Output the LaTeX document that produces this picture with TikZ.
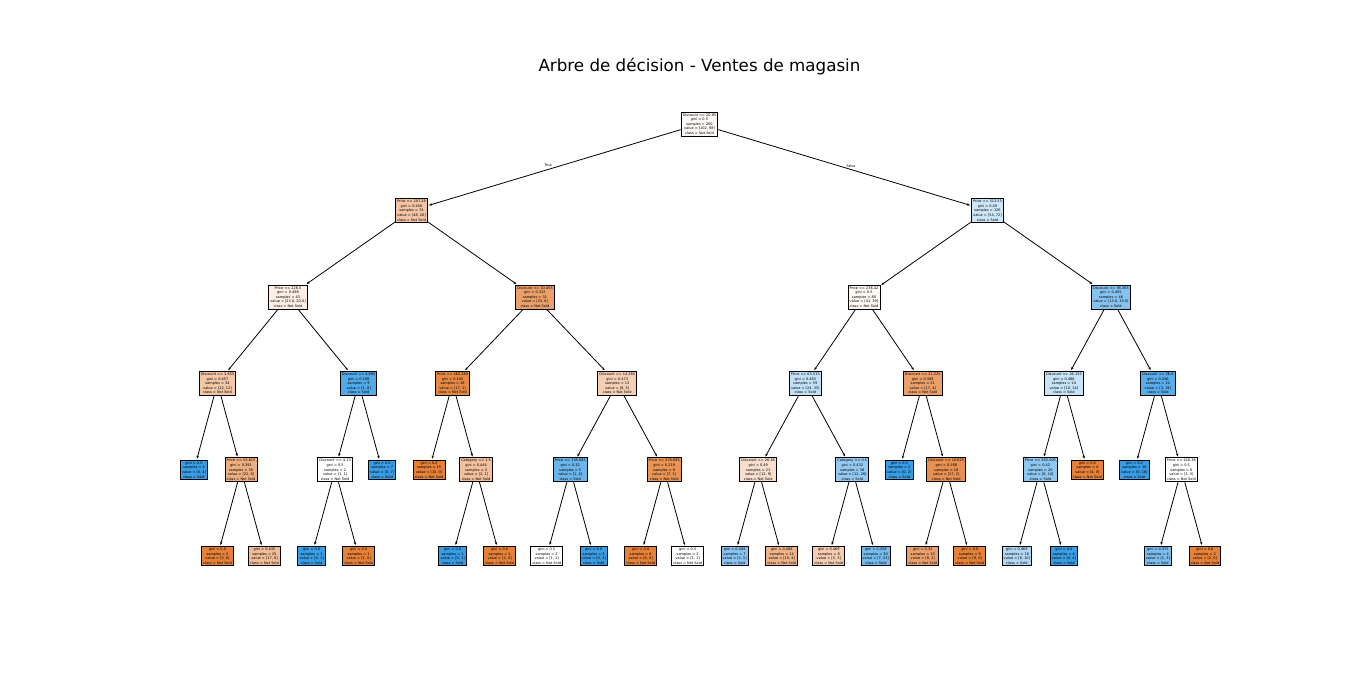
\documentclass[tikz,border=0pt]{standalone}
\usepackage{fontspec}
\setmainfont{DejaVu Sans}
\usetikzlibrary{arrows.meta}
\definecolor{notsold}{HTML}{E58139}
\definecolor{sold}{HTML}{399DE5}
\tikzset{
  treenode/.style={draw=black, line width=0.9pt, align=center, inner xsep=1.6pt, inner ysep=1.4pt,
    font=\fontsize{3.5}{4.6}\selectfont},
  branch/.style={-{Stealth[length=3pt,width=2.4pt]}, line width=0.8pt, shorten >=1pt},
  branchlabel/.style={font=\fontsize{3.5}{4.2}\selectfont, inner sep=0pt},
}
\begin{document}
\begin{tikzpicture}[x=1pt, y=-1pt]
  \useasboundingbox (0,0) rectangle (1366,673);
  \node[font=\fontsize{16.7}{20}\selectfont] (title) at (699.5,67) {Arbre de décision - Ventes de magasin};
  % Root
  \node[treenode, fill=notsold!4] (root) at (699.5,124) {Discount <= 20.85\\gini = 0.5\\samples = 200\\value = [102, 98]\\class = Not Sold};
  % Depth 1
  \node[treenode, fill=notsold!46] (l) at (411.5,210.5) {Price <= 207.28\\gini = 0.456\\samples = 74\\value = [48, 26]\\class = Not Sold};
  \node[treenode, fill=sold!25] (r) at (987.5,210.5) {Price <= 313.53\\gini = 0.49\\samples = 126\\value = [54, 72]\\class = Sold};
  % Depth 2
  \node[treenode, fill=notsold!13] (ll) at (288,297) {Price <= 226.5\\gini = 0.498\\samples = 43\\value = [23.0, 20.0]\\class = Not Sold};
  \node[treenode, fill=notsold!76] (lr) at (534.9,297) {Discount <= 10.455\\gini = 0.312\\samples = 31\\value = [25, 6]\\class = Not Sold};
  \node[treenode, fill=notsold!5] (rl) at (864,297) {Price <= 236.42\\gini = 0.5\\samples = 80\\value = [41, 39]\\class = Not Sold};
  \node[treenode, fill=sold!61] (rr) at (1110.9,297) {Discount <= 38.365\\gini = 0.405\\samples = 46\\value = [13.0, 33.0]\\class = Sold};
  % Depth 3
  \node[treenode, fill=notsold!45] (lll) at (217.5,383.3) {Discount <= 3.655\\gini = 0.457\\samples = 34\\value = [22, 12]\\class = Not Sold};
  \node[treenode, fill=sold!88] (llr) at (358.6,383.3) {Discount <= 4.895\\gini = 0.198\\samples = 9\\value = [1, 8]\\class = Sold};
  \node[treenode, fill=notsold!94] (lrl) at (452.6,383.3) {Price <= 462.285\\gini = 0.105\\samples = 18\\value = [17, 1]\\class = Not Sold};
  \node[treenode, fill=notsold!38] (lrr) at (617.2,383.3) {Discount <= 14.285\\gini = 0.473\\samples = 13\\value = [8, 5]\\class = Not Sold};
  \node[treenode, fill=sold!31] (rll) at (805.3,383.3) {Price <= 63.515\\gini = 0.483\\samples = 59\\value = [24, 35]\\class = Sold};
  \node[treenode, fill=notsold!76] (rlr) at (922.8,383.3) {Discount <= 21.225\\gini = 0.308\\samples = 21\\value = [17, 4]\\class = Not Sold};
  \node[treenode, fill=sold!29] (rrl) at (1063.9,383.3) {Discount <= 26.155\\gini = 0.486\\samples = 24\\value = [10, 14]\\class = Sold};
  \node[treenode, fill=sold!84] (rrr) at (1157.9,383.3) {Discount <= 36.8\\gini = 0.236\\samples = 22\\value = [3, 19]\\class = Sold};
  % Depth 4
  \node[treenode, fill=sold] (llll) at (194,469.8) {gini = 0.0\\samples = 4\\value = [0, 4]\\class = Sold};
  \node[treenode, fill=notsold!64] (lllr) at (241,469.8) {Price <= 53.615\\gini = 0.391\\samples = 30\\value = [22, 8]\\class = Not Sold};
  \node[treenode, fill=white] (llrl) at (335.1,469.8) {Discount <= 4.13\\gini = 0.5\\samples = 2\\value = [1, 1]\\class = Not Sold};
  \node[treenode, fill=sold] (llrr) at (382.1,469.8) {gini = 0.0\\samples = 7\\value = [0, 7]\\class = Sold};
  \node[treenode, fill=notsold] (lrll) at (429.1,469.8) {gini = 0.0\\samples = 15\\value = [15, 0]\\class = Not Sold};
  \node[treenode, fill=notsold!50] (lrlr) at (476.1,469.8) {Category <= 1.5\\gini = 0.444\\samples = 3\\value = [2, 1]\\class = Not Sold};
  \node[treenode, fill=sold!75] (lrrl) at (570.2,469.8) {Price <= 338.085\\gini = 0.32\\samples = 5\\value = [1, 4]\\class = Sold};
  \node[treenode, fill=notsold!86] (lrrr) at (664.2,469.8) {Price <= 478.685\\gini = 0.219\\samples = 8\\value = [7, 1]\\class = Not Sold};
  \node[treenode, fill=notsold!25] (rlll) at (758.2,469.8) {Discount <= 26.36\\gini = 0.49\\samples = 21\\value = [12, 9]\\class = Not Sold};
  \node[treenode, fill=sold!54] (rllr) at (852.3,469.8) {Category <= 0.5\\gini = 0.432\\samples = 38\\value = [12, 26]\\class = Sold};
  \node[treenode, fill=sold] (rlrl) at (899.3,469.8) {gini = 0.0\\samples = 2\\value = [0, 2]\\class = Sold};
  \node[treenode, fill=notsold!88] (rlrr) at (946.3,469.8) {Discount <= 10.625\\gini = 0.188\\samples = 19\\value = [17, 2]\\class = Not Sold};
  \node[treenode, fill=sold!57] (rrll) at (1040.4,469.8) {Price <= 265.005\\gini = 0.42\\samples = 20\\value = [6, 14]\\class = Sold};
  \node[treenode, fill=notsold] (rrlr) at (1087.4,469.8) {gini = 0.0\\samples = 4\\value = [4, 0]\\class = Not Sold};
  \node[treenode, fill=sold] (rrrl) at (1134.4,469.8) {gini = 0.0\\samples = 16\\value = [0, 16]\\class = Sold};
  \node[treenode, fill=white] (rrrr) at (1181.4,469.8) {Price <= 416.38\\gini = 0.5\\samples = 6\\value = [3, 3]\\class = Not Sold};
  % Depth 5
  \node[treenode, fill=notsold] (lllrl) at (217.5,556) {gini = 0.0\\samples = 5\\value = [5, 0]\\class = Not Sold};
  \node[treenode, fill=notsold!53] (lllrr) at (264.5,556) {gini = 0.435\\samples = 25\\value = [17, 8]\\class = Not Sold};
  \node[treenode, fill=sold] (llrll) at (311.6,556) {gini = 0.0\\samples = 1\\value = [0, 1]\\class = Sold};
  \node[treenode, fill=notsold] (llrlr) at (358.6,556) {gini = 0.0\\samples = 1\\value = [1, 0]\\class = Not Sold};
  \node[treenode, fill=sold] (lrlrl) at (452.6,556) {gini = 0.0\\samples = 1\\value = [0, 1]\\class = Sold};
  \node[treenode, fill=notsold] (lrlrr) at (499.6,556) {gini = 0.0\\samples = 2\\value = [2, 0]\\class = Not Sold};
  \node[treenode, fill=white] (lrrll) at (546.7,556) {gini = 0.5\\samples = 2\\value = [1, 1]\\class = Not Sold};
  \node[treenode, fill=sold] (lrrlr) at (593.7,556) {gini = 0.0\\samples = 3\\value = [0, 3]\\class = Sold};
  \node[treenode, fill=notsold] (lrrrl) at (640.7,556) {gini = 0.0\\samples = 6\\value = [6, 0]\\class = Not Sold};
  \node[treenode, fill=white] (lrrrr) at (687.7,556) {gini = 0.5\\samples = 2\\value = [1, 1]\\class = Not Sold};
  \node[treenode, fill=sold!60] (rllll) at (734.7,556) {gini = 0.408\\samples = 7\\value = [2, 5]\\class = Sold};
  \node[treenode, fill=notsold!60] (rlllr) at (781.8,556) {gini = 0.408\\samples = 14\\value = [10, 4]\\class = Not Sold};
  \node[treenode, fill=notsold!40] (rllrl) at (828.8,556) {gini = 0.469\\samples = 8\\value = [5, 3]\\class = Not Sold};
  \node[treenode, fill=sold!70] (rllrr) at (875.8,556) {gini = 0.358\\samples = 30\\value = [7, 23]\\class = Sold};
  \node[treenode, fill=notsold!75] (rlrrl) at (922.8,556) {gini = 0.32\\samples = 10\\value = [8, 2]\\class = Not Sold};
  \node[treenode, fill=notsold] (rlrrr) at (969.8,556) {gini = 0.0\\samples = 9\\value = [9, 0]\\class = Not Sold};
  \node[treenode, fill=sold!40] (rrlll) at (1016.9,556) {gini = 0.469\\samples = 16\\value = [6, 10]\\class = Sold};
  \node[treenode, fill=sold] (rrllr) at (1063.9,556) {gini = 0.0\\samples = 4\\value = [0, 4]\\class = Sold};
  \node[treenode, fill=sold!67] (rrrrl) at (1157.9,556) {gini = 0.375\\samples = 4\\value = [1, 3]\\class = Sold};
  \node[treenode, fill=notsold] (rrrrr) at (1204.9,556) {gini = 0.0\\samples = 2\\value = [2, 0]\\class = Not Sold};
  % Branches
  \foreach \a/\b in {root/l, root/r, l/ll, l/lr, r/rl, r/rr,
      ll/lll, ll/llr, lr/lrl, lr/lrr, rl/rll, rl/rlr, rr/rrl, rr/rrr,
      lll/llll, lll/lllr, llr/llrl, llr/llrr, lrl/lrll, lrl/lrlr, lrr/lrrl, lrr/lrrr,
      rll/rlll, rll/rllr, rlr/rlrl, rlr/rlrr, rrl/rrll, rrl/rrlr, rrr/rrrl, rrr/rrrr,
      lllr/lllrl, lllr/lllrr, llrl/llrll, llrl/llrlr, lrlr/lrlrl, lrlr/lrlrr,
      lrrl/lrrll, lrrl/lrrlr, lrrr/lrrrl, lrrr/lrrrr, rlll/rllll, rlll/rlllr,
      rllr/rllrl, rllr/rllrr, rlrr/rlrrl, rlrr/rlrrr, rrll/rrlll, rrll/rrllr,
      rrrr/rrrrl, rrrr/rrrrr}
    \draw[branch] (\a) -- (\b);
  % True / False
  \node[branchlabel] (truelbl) at (548,165.7) {True};
  \node[branchlabel] (falselbl) at (851,165.7) {False};
\end{tikzpicture}
\end{document}
